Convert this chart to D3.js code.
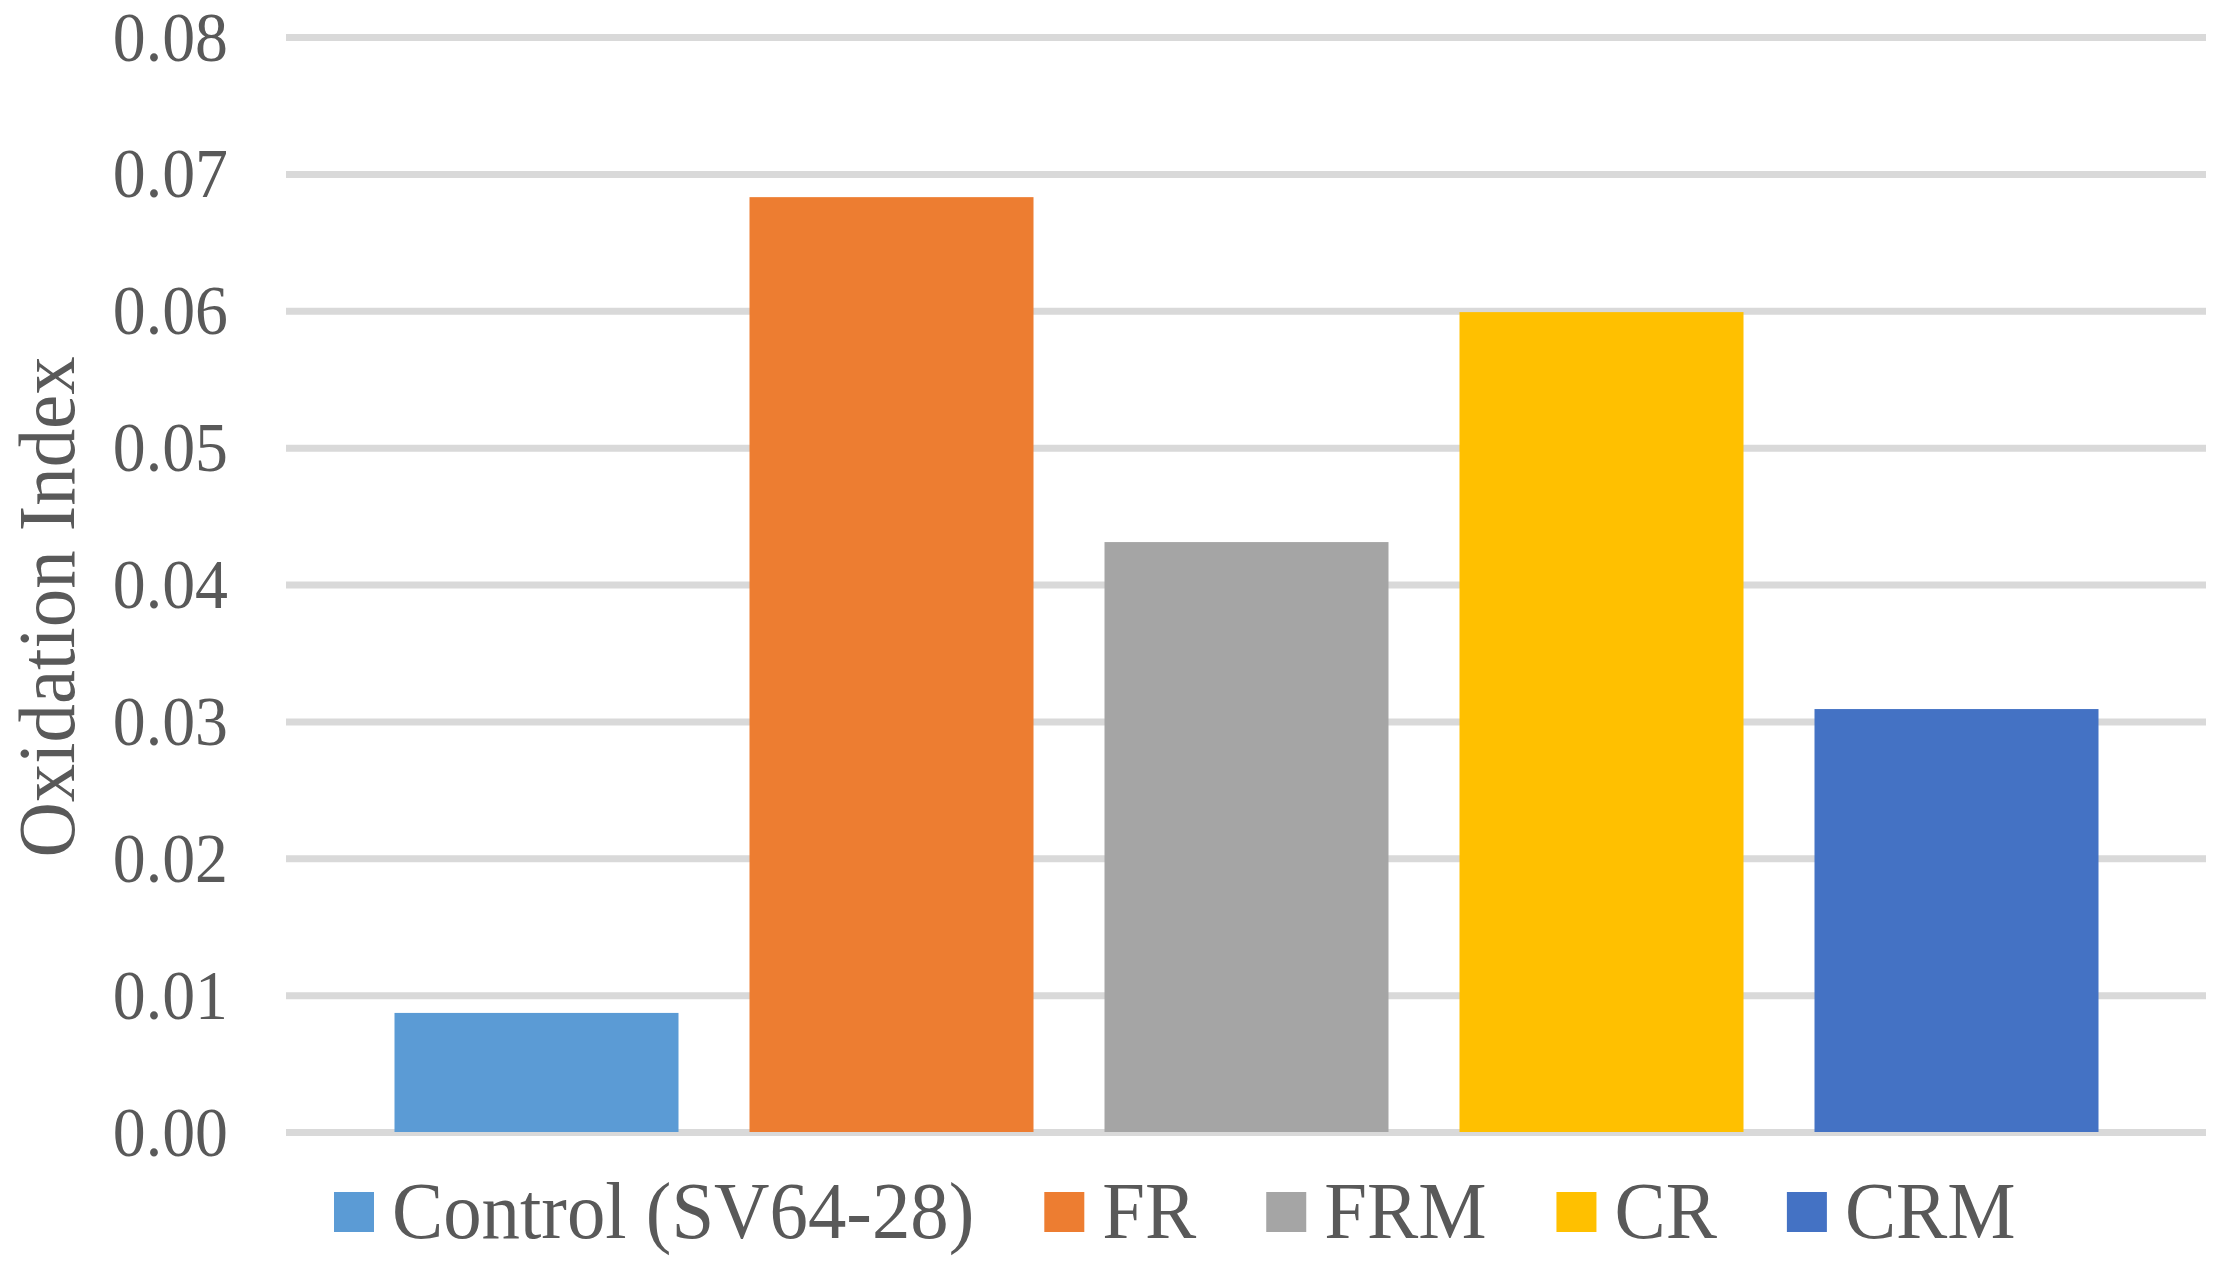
<!DOCTYPE html>
<html>
<head>
<meta charset="utf-8">
<script src="https://cdn.jsdelivr.net/npm/d3@7"></script>
<style>
  html, body { margin: 0; padding: 0; background: #ffffff; }
  svg { display: block; }
  text { font-family: "Liberation Serif", "Times New Roman", serif; fill: #595959; }
</style>
</head>
<body>
<svg id="chart" width="2221" height="1261"></svg>
<script>
// ---- data ----
const categories = ["Control (SV64-28)", "FR", "FRM", "CR", "CRM"];
const values = [0.0087, 0.0683, 0.0431, 0.0599, 0.0309];
const colors = ["#5B9BD5", "#ED7D31", "#A5A5A5", "#FFC000", "#4472C4"];
const yTicks = [0, 0.01, 0.02, 0.03, 0.04, 0.05, 0.06, 0.07, 0.08];
const yTickLabels = ["0.00", "0.01", "0.02", "0.03", "0.04", "0.05", "0.06", "0.07", "0.08"];
const yTitle = "Oxidation Index";

// ---- layout ----
const W = 2221, H = 1261;
const gridLeft = 286, gridRight = 2206;
const plotTop = 37, plotBottom = 1132;
const squeeze = 0.94;
const squeezeBig = 0.96;

const svg = d3.select("#chart");

const y = d3.scaleLinear().domain([0, 0.08]).range([plotBottom, plotTop]);
const x = d3.scaleBand().domain(categories).range([359, 2134])
  .paddingInner(0.2).paddingOuter(0.1);
const color = d3.scaleOrdinal().domain(categories).range(colors);

// gridlines + tick labels via axis
const axis = d3.axisLeft(y)
  .tickValues(yTicks)
  .tickFormat((d, i) => yTickLabels[i])
  .tickSize(-(gridRight - gridLeft))
  .tickPadding(0);

const gAxis = svg.append("g")
  .attr("transform", `translate(${gridLeft},0)`)
  .call(axis);
gAxis.select(".domain").remove();
gAxis.selectAll(".tick line")
  .attr("stroke", "#D9D9D9")
  .attr("stroke-width", 7);
gAxis.selectAll(".tick text")
  .attr("x", null).attr("dy", null)
  .attr("text-anchor", "end")
  .attr("font-size", 70)
  .attr("fill", "#595959")
  .attr("font-family", "Liberation Serif, Times New Roman, serif")
  .attr("transform", `translate(-58,23) scale(${squeeze},1)`);

// bars
svg.append("g").selectAll("rect")
  .data(categories)
  .join("rect")
  .attr("x", d => x(d))
  .attr("width", x.bandwidth())
  .attr("y", (d, i) => y(values[i]))
  .attr("height", (d, i) => y(0) - y(values[i]))
  .attr("fill", d => color(d));

// y title
svg.append("text")
  .attr("text-anchor", "middle")
  .attr("font-size", 80)
  .attr("transform", `translate(74,607) rotate(-90) scale(${squeezeBig},1)`)
  .text(yTitle);

// legend
const legend = svg.append("g");
let lx = 334;
const sq = 40, gapText = 18, gapItem = 70;
categories.forEach((c, i) => {
  const g = legend.append("g");
  g.append("rect").attr("x", lx).attr("y", 1192).attr("width", sq).attr("height", sq)
    .attr("fill", color(c));
  const t = g.append("text")
    .attr("font-size", 80)
    .attr("transform", `translate(${lx + sq + gapText},1238) scale(${squeezeBig},1)`)
    .text(c);
  const tw = t.node().getComputedTextLength() * squeezeBig;
  lx += sq + gapText + tw + gapItem;
});
</script>
</body>
</html>
